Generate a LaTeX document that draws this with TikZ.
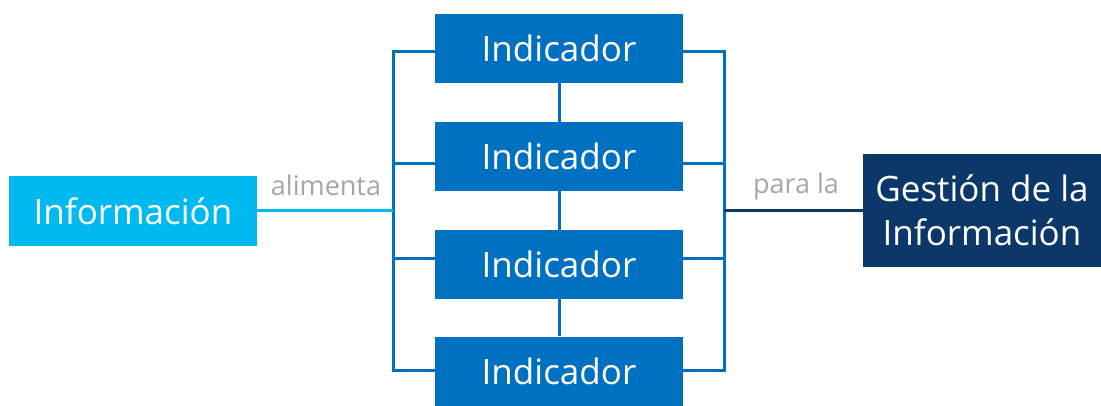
\documentclass[tikz,border=0pt]{standalone}
\usepackage{fontspec}
\setmainfont{Open Sans}
\definecolor{cyanbox}{HTML}{00B9F1}
\definecolor{bluebox}{HTML}{0070C0}
\definecolor{navybox}{HTML}{0B3769}
\definecolor{labelgray}{HTML}{A6A6A6}
\begin{document}
\begin{tikzpicture}[x=1pt,y=-1pt,
  box/.style={inner sep=0pt, text=white, font=\fontsize{35}{42}\selectfont},
  indbox/.style={box, fill=bluebox, minimum width=248pt, minimum height=69pt},
  link/.style={line width=3pt, bluebox},
  lbl/.style={text=labelgray, font=\fontsize{27}{32}\selectfont, inner sep=0pt}]
\useasboundingbox (0,0) rectangle (1101,405);
\node[box, fill=cyanbox, minimum width=248pt, minimum height=70pt] (info) at (133,211) {Información};
\node[indbox] (i1) at (559,48.5) {Indicador};
\node[indbox] (i2) at (559,156.5) {Indicador};
\node[indbox] (i3) at (559,264.5) {Indicador};
\node[indbox] (i4) at (559,371) {Indicador};
\node[box, fill=navybox, minimum width=238pt, minimum height=113pt, align=center, font=\fontsize{35}{44}\selectfont] (gest) at (982,210.5) {Gestión de la\\Información};
\coordinate (lt) at (393,51);
\coordinate (lb) at (393,370);
\coordinate (rt) at (724,51);
\coordinate (rb) at (724,370);
\coordinate (lm) at (393,210);
\coordinate (rm) at (724,210);
% vertical connectors between indicators
\draw[link] (i1.south) -- (i2.north);
\draw[link] (i2.south) -- (i3.north);
\draw[link] (i3.south) -- (i4.north);
% left bracket
\draw[link] (i1.west |- lt) -- (lt) -- (lb) -- (i4.west |- lb);
\draw[link] (i2.west |- 0,163) -- (393,163);
\draw[link] (i3.west |- 0,258) -- (393,258);
% right bracket
\draw[link] (i1.east |- rt) -- (rt) -- (rb) -- (i4.east |- rb);
\draw[link] (i2.east |- 0,163) -- (724,163);
\draw[link] (i3.east |- 0,258) -- (724,258);
% main connectors
\draw[line width=3pt, cyanbox] (info.east |- lm) -- (lm);
\draw[line width=3pt, navybox] (rm) -- (gest.west |- rm);
\node[lbl] (l1) at (326,185) {alimenta};
\node[lbl] (l2) at (796,186) {para la};
\end{tikzpicture}
\end{document}
